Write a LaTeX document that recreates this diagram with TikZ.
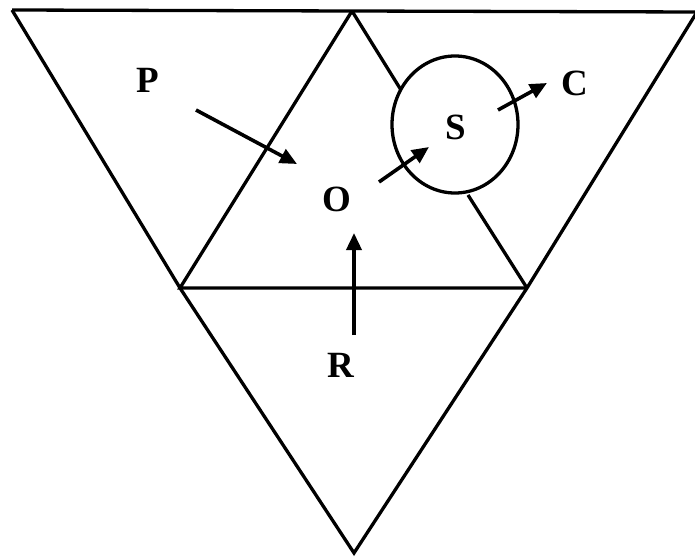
\documentclass[tikz,border=0pt]{standalone}
\usepackage{fontspec}
\setmainfont{Liberation Serif}
\usetikzlibrary{arrows.meta,shapes.geometric}
\begin{document}
\begin{tikzpicture}[x=1pt,y=-1pt,
  edge/.style={line width=3.3pt,line join=miter},
  arr/.style={line width=3.6pt,-{Triangle[length=17pt,width=15pt]}},
  lab/.style={font=\fontsize{37}{40}\selectfont\bfseries,inner sep=0pt}]
\useasboundingbox (0,0) rectangle (695,559);
% vertices
\coordinate (TL) at (12,10);
\coordinate (A) at (352,11);
\coordinate (TR) at (697,12);
\coordinate (L) at (180,288);
\coordinate (R) at (527,288);
\coordinate (B) at (354,553);
\coordinate (RA) at (401,90);
\coordinate (RB) at (468,195);
% outer shape
\draw[edge] (TL) -- (A) -- (TR);
\draw[edge] (TL) -- (L) -- (B) -- (R) -- (TR);
\draw[edge] (A) -- (L) -- (R);
\draw[edge] (A) -- (RA);
\draw[edge] (RB) -- (R);
% circle
\node[draw,line width=3.3pt,ellipse,minimum width=126pt,minimum height=137pt,inner sep=0pt] (circ) at (455,124.5) {};
% labels
\node[lab] (P) at (148,80) {P};
\node[lab] (O) at (337,199) {O};
\node[lab] (S) at (456,127) {S};
\node[lab] (C) at (575,83) {C};
\node[lab] (Rl) at (341,365) {R};
% arrow endpoints
\coordinate (p1) at (196,110);
\coordinate (p2) at (297,164);
\coordinate (o1) at (379,182);
\coordinate (o2) at (429,147);
\coordinate (s1) at (498,110);
\coordinate (s2) at (547,83);
\coordinate (r1) at (354,335);
\coordinate (r2) at (354,233);
\draw[arr] (p1) -- (p2);
\draw[arr] (o1) -- (o2);
\draw[arr] (s1) -- (s2);
\draw[arr] (r1) -- (r2);
\end{tikzpicture}
\end{document}
